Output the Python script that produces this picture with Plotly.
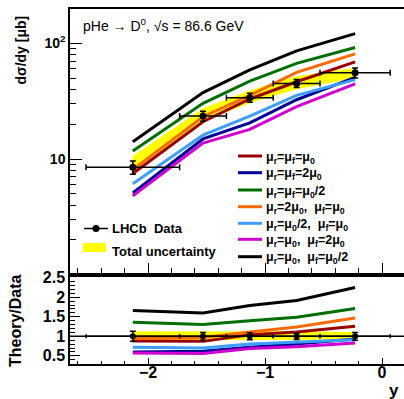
import plotly.graph_objects as go

W, H = 404, 399

# ---------------- data ----------------
y_center = [-2.13, -1.53, -1.13, -0.73, -0.23]
y_halfwidth = [0.40, 0.20, 0.20, 0.20, 0.30]

data_val = [8.5, 23.5, 33.9, 45.0, 55.7]
data_err = [1.1, 2.3, 3.0, 3.6, 5.5]

band_hi = [10.6, 27.5, 39.0, 52.0, 61.0]
band_lo = [7.8, 21.0, 30.5, 40.0, 50.0]

labels = [
    "μ<sub>r</sub>=μ<sub>f</sub>=μ<sub>0</sub>",
    "μ<sub>r</sub>=μ<sub>f</sub>=2μ<sub>0</sub>",
    "μ<sub>r</sub>=μ<sub>f</sub>=μ<sub>0</sub>/2",
    "μ<sub>r</sub>=2μ<sub>0</sub>,  μ<sub>f</sub>=μ<sub>0</sub>",
    "μ<sub>r</sub>=μ<sub>0</sub>/2,  μ<sub>f</sub>=μ<sub>0</sub>",
    "μ<sub>r</sub>=μ<sub>0</sub>,  μ<sub>f</sub>=2μ<sub>0</sub>",
    "μ<sub>r</sub>=μ<sub>0</sub>,  μ<sub>f</sub>=μ<sub>0</sub>/2",
]
colors = ["#990000", "#000099", "#006e00", "#ff6a00", "#3d9eff", "#d000d0", "#000000"]

theory_mu0 = [7.5, 21.0, 33.0, 46.5, 69.0]
theory_2mu0 = [5.1, 14.9, 20.5, 32.5, 50.8]
theory_halfmu0 = [11.7, 30.3, 47.0, 67.0, 92.0]
theory_r2 = [8.1, 23.2, 35.5, 56.0, 81.0]
theory_rhalf = [6.1, 16.1, 23.5, 35.5, 48.5]
theory_f2 = [4.8, 13.7, 18.0, 28.3, 44.5]
theory_fhalf = [14.1, 37.5, 59.0, 86.0, 121.0]
theory = [theory_mu0, theory_2mu0, theory_halfmu0, theory_r2, theory_rhalf, theory_f2, theory_fhalf]

ratio_mu0 = [0.88, 0.87, 1.04, 1.11, 1.26]
ratio_2mu0 = [0.60, 0.62, 0.72, 0.80, 0.93]
ratio_halfmu0 = [1.36, 1.30, 1.40, 1.49, 1.71]
ratio_r2 = [0.95, 0.97, 1.11, 1.24, 1.47]
ratio_rhalf = [0.72, 0.70, 0.80, 0.85, 0.91]
ratio_f2 = [0.57, 0.56, 0.69, 0.73, 0.83]
ratio_fhalf = [1.66, 1.60, 1.79, 1.92, 2.25]
ratios = [ratio_mu0, ratio_2mu0, ratio_halfmu0, ratio_r2, ratio_rhalf, ratio_f2, ratio_fhalf]

ratio_band_hi = [1.13, 1.13, 1.12, 1.12, 1.11]
ratio_band_lo = [0.90, 0.90, 0.90, 0.91, 0.92]
ratio_data = [1, 1, 1, 1, 1]
ratio_err = [0.13, 0.10, 0.09, 0.08, 0.10]

# ---------------- helpers ----------------
def X(px):
    return px / W

def Y(py):
    return 1 - py / H

FONT = "Liberation Sans, Arial, Helvetica, sans-serif"

fig = go.Figure()

# ---- top panel ----
fig.add_trace(go.Scatter(
    x=y_center + y_center[::-1], y=band_hi + band_lo[::-1],
    fill="toself", fillcolor="#ffff00", line=dict(width=0, color="#ffff00"),
    mode="lines", xaxis="x", yaxis="y", hoverinfo="skip"))
for vals, col in zip(theory, colors):
    fig.add_trace(go.Scatter(x=y_center, y=vals, mode="lines",
                             line=dict(color=col, width=3), xaxis="x", yaxis="y"))
fig.add_trace(go.Scatter(
    x=y_center, y=data_val, mode="markers",
    marker=dict(color="black", size=7),
    error_x=dict(type="data", array=y_halfwidth, color="black", thickness=1.5, width=3),
    error_y=dict(type="data", array=data_err, color="black", thickness=1.5, width=3),
    xaxis="x", yaxis="y"))

# ---- ratio panel ----
fig.add_trace(go.Scatter(
    x=y_center + y_center[::-1], y=ratio_band_hi + ratio_band_lo[::-1],
    fill="toself", fillcolor="#ffff00", line=dict(width=0, color="#ffff00"),
    mode="lines", xaxis="x2", yaxis="y2", hoverinfo="skip"))
for vals, col in zip(ratios, colors):
    fig.add_trace(go.Scatter(x=y_center, y=vals, mode="lines",
                             line=dict(color=col, width=3), xaxis="x2", yaxis="y2"))
fig.add_trace(go.Scatter(
    x=y_center, y=ratio_data, mode="markers",
    marker=dict(color="black", size=6),
    error_x=dict(type="data", array=y_halfwidth, color="black", thickness=1.5, width=2),
    error_y=dict(type="data", array=ratio_err, color="black", thickness=1.5, width=3),
    xaxis="x2", yaxis="y2"))

xr = [-2.667, 0.188]
common_ax = dict(showgrid=False, zeroline=False, showline=True, linecolor="black",
                 linewidth=1.5, ticks="inside", tickcolor="black", automargin=False)

fig.update_layout(
    width=W, height=H, margin=dict(l=0, r=0, t=0, b=0),
    template="none", paper_bgcolor="white", plot_bgcolor="white",
    showlegend=False, font=dict(family=FONT, color="black"),
    xaxis=dict(domain=[X(70), 1], range=xr, anchor="y", showticklabels=False,
               dtick=1, tick0=0, ticklen=10, tickwidth=1.2, mirror=True,
               minor=dict(dtick=0.2, tick0=0, ticklen=5, ticks="inside", tickcolor="black"),
               **common_ax),
    yaxis=dict(domain=[Y(273), Y(9)], type="log", range=[0.015, 2.296], anchor="x",
               tickmode="array", tickvals=[1, 10, 100], ticktext=["1", "10", "10<sup>2</sup>"],
               ticklen=12, tickwidth=1.2,
               tickfont=dict(size=14, weight="bold", family=FONT),
               minor=dict(tickmode="array",
                          tickvals=[2, 3, 4, 5, 6, 7, 8, 9, 20, 30, 40, 50, 60, 70, 80, 90, 200],
                          ticklen=6, ticks="inside", tickcolor="black"),
               **common_ax),
    xaxis2=dict(domain=[X(70), 1], range=xr, anchor="y2",
                dtick=1, tick0=0, ticklen=6, tickwidth=1.2, mirror=True,
                ticklabelstandoff=-7,
                tickfont=dict(size=16, weight="bold", family=FONT),
                minor=dict(dtick=0.2, tick0=0, ticklen=3, ticks="inside", tickcolor="black"),
                **common_ax),
    yaxis2=dict(domain=[Y(364), Y(277)], range=[0.29, 2.52], anchor="x2",
                tickmode="array", tickvals=[0.5, 1, 1.5, 2, 2.5],
                ticktext=["0.5", "1", "1.5", "2", "2.5"],
                ticklen=10, tickwidth=1.2,
                tickfont=dict(size=16, weight="bold", family=FONT),
                minor=dict(dtick=0.1, tick0=0, ticklen=5, ticks="inside", tickcolor="black"),
                **common_ax),
)

shapes = []
annotations = []

# horizontal reference line at ratio 1
shapes.append(dict(type="line", xref="x2 domain", x0=0, x1=1, yref="y2", y0=1, y1=1,
                   line=dict(color="black", width=1.5), layer="above"))

# left legend
shapes.append(dict(type="line", xref="paper", yref="paper", x0=X(84), x1=X(108),
                   y0=Y(228.5), y1=Y(228.5), line=dict(color="black", width=1.5)))
shapes.append(dict(type="circle", xref="paper", yref="paper", x0=X(92.5), x1=X(99.5),
                   y0=Y(232), y1=Y(225), fillcolor="black", line=dict(color="black", width=0)))
shapes.append(dict(type="rect", xref="paper", yref="paper", x0=X(83), x1=X(106),
                   y0=Y(252), y1=Y(243), fillcolor="#ffff00", line=dict(width=0)))
annotations.append(dict(text="<b>LHCb  Data</b>", x=X(110), y=Y(228.5), xref="paper", yref="paper",
                        xanchor="left", yanchor="middle", showarrow=False, font=dict(size=13)))
annotations.append(dict(text="<b>Total uncertainty</b>", x=X(110), y=Y(251), xref="paper", yref="paper",
                        xanchor="left", yanchor="middle", showarrow=False, font=dict(size=13)))

# right legend
row_y = [156, 172.7, 190, 206.7, 223.3, 239.3, 256.7]
for lab, col, ry in zip(labels, colors, row_y):
    shapes.append(dict(type="line", xref="paper", yref="paper", x0=X(238), x1=X(262),
                       y0=Y(ry), y1=Y(ry), line=dict(color=col, width=3)))
    annotations.append(dict(text="<b>" + lab + "</b>", x=X(264), y=Y(ry + 1.5), xref="paper",
                            yref="paper", xanchor="left", yanchor="middle", showarrow=False,
                            font=dict(size=12.5)))

# titles
annotations.append(dict(text="pHe → D<sup>0</sup>, √s = 86.6 GeV", x=X(81), y=Y(25),
                        xref="paper", yref="paper", xanchor="left", yanchor="middle",
                        showarrow=False, font=dict(size=14)))
annotations.append(dict(text="<b>dσ/dy [μb]</b>", x=X(20), y=Y(14), xref="paper", yref="paper",
                        xanchor="center", yanchor="top", textangle=-90, showarrow=False,
                        font=dict(size=14)))
annotations.append(dict(text="<b>Theory/Data</b>", x=X(15), y=Y(321), xref="paper", yref="paper",
                        xanchor="center", yanchor="middle", textangle=-90, showarrow=False,
                        font=dict(size=16)))
annotations.append(dict(text="<b>y</b>", x=X(394), y=Y(390), xref="paper", yref="paper",
                        xanchor="center", yanchor="middle", showarrow=False, font=dict(size=17)))

fig.update_layout(shapes=shapes, annotations=annotations)
fig.write_html("out.html", config={"displayModeBar": False},
               post_script="document.body.style.margin='0';document.body.style.padding='0';")
